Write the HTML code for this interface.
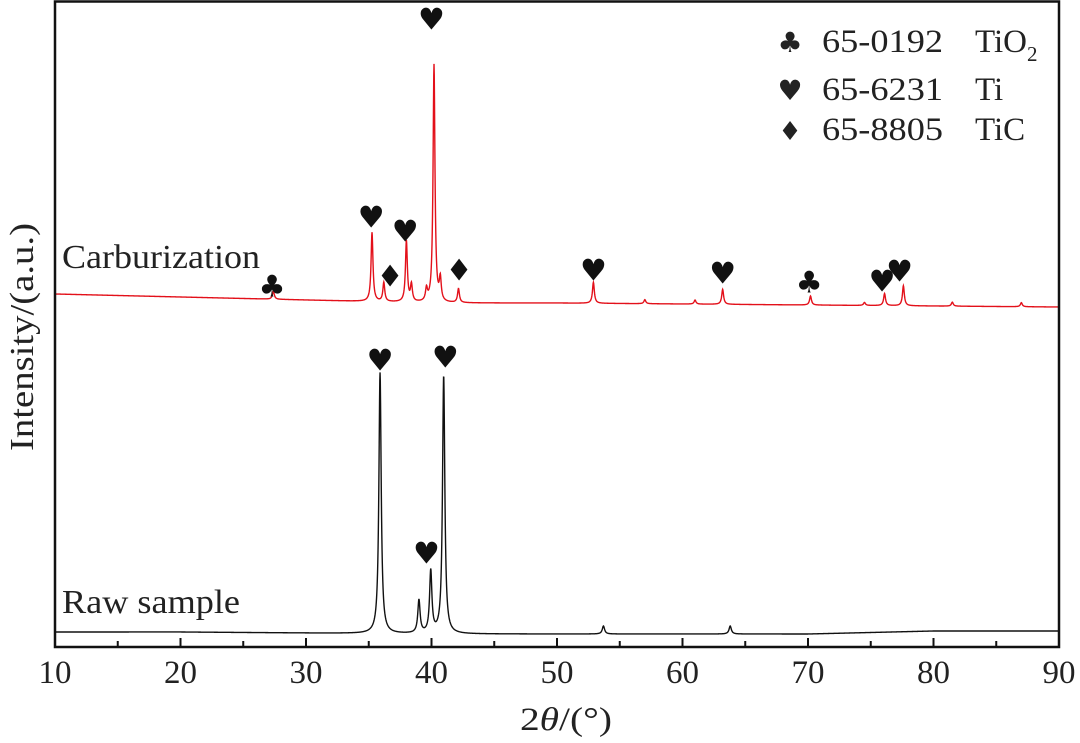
<!DOCTYPE html>
<html><head><meta charset="utf-8"><style>
html,body{margin:0;padding:0;background:#fff}
svg{display:block;font-family:"Liberation Serif",serif}
</style></head><body>
<svg id="chart" width="1080" height="743" viewBox="0 0 1080 743" xmlns="http://www.w3.org/2000/svg">
<g id="plot"></g>
</svg>
<script>
// ---- data ----
const xTicks = [10,20,30,40,50,60,70,80,90];
const redBaseX = [10,20,30,40,50,60,70,80,90];
const redBaseV = [353,350,347,344,344,343,342,341,340];
const redPeakPos = [27.4,35.26,36.2,38.0,38.4,39.6,40.2,40.7,42.15,52.9,57.0,61.0,63.2,70.2,74.5,76.1,77.6,81.5,87.0];
const redPeakH   = [8,69,19,61,17,12,238,22,14,21,4,4,15,9,3,12,20,4,4];
const blackBaseX = [10,20,30,40,50,60,70,80,90];
const blackBaseV = [15,15,14,13,13,13,13,16,16];
const blackPeakPos = [35.9,39.0,39.94,40.97,53.7,63.8];
const blackPeakH   = [261,33,62,258,8,8];
const markerSym = ["♣","♥","♦","♥","♥","♦","♥","♥","♣","♥","♥","♥","♥","♥"];
const markerX   = [27.3,35.2,36.7,37.9,40.0,42.2,52.9,63.2,70.1,75.9,77.3,35.9,41.1,39.6];
const markerV   = [360,429,370,415,627,376,376,373,364,365,375,286,289,93];

// ---- scales ----
const X0=55,X1=1059,YB=647;
const xs = v => X0 + (v-10)/80*(X1-X0);
const ys = v => YB - v;
const NS="http://www.w3.org/2000/svg";
const plot=document.getElementById('plot');
function el(tag,attrs,parent){const e=document.createElementNS(NS,tag);for(const k in attrs)e.setAttribute(k,attrs[k]);(parent||plot).appendChild(e);return e;}
function interp(xa,va,x){for(let i=0;i<xa.length-1;i++){if(x<=xa[i+1]){const t=(x-xa[i])/(xa[i+1]-xa[i]);return va[i]+t*(va[i+1]-va[i]);}}return va[va.length-1];}
function profile(bx,bv,pp,ph,w,x){let v=interp(bx,bv,x);for(let i=0;i<pp.length;i++){const d=(x-pp[i])/w;v+=ph[i]/(1+d*d*4);}return v;}
function trace(bx,bv,pp,ph,w,color,name){let d="";for(let x=10;x<=90.0001;x+=0.02){const v=profile(bx,bv,pp,ph,w,x);d+=(d?"L":"M")+xs(x).toFixed(2)+","+ys(v).toFixed(2);}
const p=el('path',{d:d,fill:'none',stroke:color,'stroke-width':1.4});

}
trace(redBaseX,redBaseV,redPeakPos,redPeakH,0.18,'#e3101a','carburization-trace');
trace(blackBaseX,blackBaseV,blackPeakPos,blackPeakH,0.22,'#111','raw-sample-trace');

// markers
for(let i=0;i<markerSym.length;i++){const t=el('text',{x:xs(markerX[i]),y:ys(markerV[i]),'text-anchor':'middle','dominant-baseline':'central','font-size':30,fill:'#111','font-family':'DejaVu Sans, sans-serif'});t.textContent=markerSym[i];

}

// frame
const fr=el('rect',{x:X0,y:1.5,width:X1-X0,height:YB-1.5,fill:'none',stroke:'#111','stroke-width':2.5});


// ticks
for(let v=10;v<=90;v+=5){const major=v%10===0;const t=el('line',{x1:xs(v),x2:xs(v),y1:YB,y2:YB-(major?9:6),stroke:'#111','stroke-width':2});

}
xTicks.forEach(v=>{const t=el('text',{x:xs(v),y:683,'text-anchor':'middle','font-size':33,fill:'#222'});t.textContent=v;

});
</script>
<script>
const s=document.getElementById('chart');const N="http://www.w3.org/2000/svg";
function tx(x,y,size,html,name,extra){const t=document.createElementNS(N,'text');t.setAttribute('x',x);t.setAttribute('y',y);t.setAttribute('font-size',size);t.setAttribute('fill','#222');if(extra)for(const k in extra)t.setAttribute(k,extra[k]);t.innerHTML=html;


s.appendChild(t);return t;}
tx(62,268,34,'Carburization','carburization-label',{textLength:198,lengthAdjust:'spacingAndGlyphs'});
tx(62,613,34,'Raw sample','raw-sample-label',{textLength:178,lengthAdjust:'spacingAndGlyphs'});
tx(566,730,33,'2<tspan font-style="italic">θ</tspan>/(°)','x-axis-title',{'text-anchor':'middle',textLength:92,lengthAdjust:'spacingAndGlyphs'});
tx(0,0,34,'Intensity/(a.u.)','y-axis-title',{'text-anchor':'middle',transform:'translate(33,337) rotate(-90)',textLength:228,lengthAdjust:'spacingAndGlyphs'});
tx(790,52,28,'♣','legend-symbol-tio2',{'text-anchor':'middle','font-family':'DejaVu Sans, sans-serif'});
tx(790,100,28,'♥','legend-symbol-ti',{'text-anchor':'middle','font-family':'DejaVu Sans, sans-serif'});
tx(790,140,26,'♦','legend-symbol-tic',{'text-anchor':'middle','font-family':'DejaVu Sans, sans-serif'});
tx(822,52,33,'65-0192','legend-code-tio2',{textLength:121,lengthAdjust:'spacingAndGlyphs'});
tx(822,100,33,'65-6231','legend-code-ti',{textLength:121,lengthAdjust:'spacingAndGlyphs'});
tx(822,140,33,'65-8805','legend-code-tic',{textLength:121,lengthAdjust:'spacingAndGlyphs'});
tx(975,52,33,'TiO<tspan font-size="21" dy="9">2</tspan>','legend-name-tio2');
tx(975,100,33,'Ti','legend-name-ti');
tx(975,140,33,'TiC','legend-name-tic');
</script>
</body></html>
